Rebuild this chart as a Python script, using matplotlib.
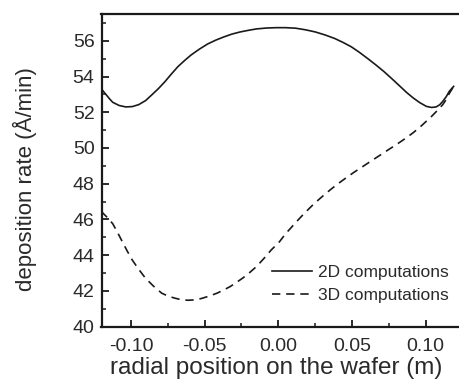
import matplotlib
matplotlib.use("Agg")
import matplotlib.pyplot as plt

plt.rcParams['font.family'] = ['Liberation Sans', 'DejaVu Sans']

# Deposition rate along the wafer radius, 2D model
x_2d = [-0.1214, -0.1190, -0.1168, -0.1145, -0.1124, -0.1080, -0.1035, -0.0990,
        -0.0947, -0.0900, -0.0858, -0.0812, -0.0769, -0.0725, -0.0681, -0.0636,
        -0.0592, -0.0537, -0.0481, -0.0425, -0.0370, -0.0315, -0.0259, -0.0204,
        -0.0148, -0.0080, -0.0015, 0.0050, 0.0118, 0.0185, 0.0251, 0.0318,
        0.0384, 0.0440, 0.0495, 0.0550, 0.0605, 0.0661, 0.0717, 0.0772,
        0.0828, 0.0872, 0.0916, 0.0960, 0.1005, 0.1040, 0.1071, 0.1095,
        0.1116, 0.1140, 0.1160, 0.1190]
rate_2d = [53.44, 53.20, 52.98, 52.75, 52.56, 52.38, 52.30, 52.32,
           52.43, 52.66, 52.98, 53.34, 53.72, 54.15, 54.56, 54.90,
           55.21, 55.53, 55.82, 56.04, 56.22, 56.38, 56.50, 56.59,
           56.67, 56.72, 56.74, 56.74, 56.71, 56.62, 56.50, 56.33,
           56.13, 55.91, 55.67, 55.36, 55.02, 54.66, 54.28, 53.87,
           53.44, 53.10, 52.80, 52.54, 52.33, 52.27, 52.30, 52.42,
           52.61, 52.88, 53.17, 53.45]

# Deposition rate along the wafer radius, 3D model
x_3d = [-0.1202, -0.1160, -0.1124, -0.1090, -0.1058, -0.1025, -0.0991, -0.0947,
        -0.0902, -0.0847, -0.0792, -0.0748, -0.0703, -0.0658, -0.0614, -0.0570,
        -0.0526, -0.0470, -0.0415, -0.0370, -0.0326, -0.0282, -0.0237, -0.0192,
        -0.0148, -0.0099, -0.0049, 0.0007, 0.0050, 0.0096, 0.0140, 0.0184,
        0.0228, 0.0273, 0.0318, 0.0362, 0.0412, 0.0462, 0.0512, 0.0562,
        0.0606, 0.0650, 0.0695, 0.0739, 0.0784, 0.0828, 0.0872, 0.0916,
        0.0960, 0.1005, 0.1040, 0.1071, 0.1095, 0.1116, 0.1140, 0.1160,
        0.1190]
rate_3d = [46.45, 46.10, 45.76, 45.25, 44.74, 44.22, 43.72, 43.20,
           42.71, 42.26, 41.87, 41.70, 41.59, 41.50, 41.47, 41.49,
           41.56, 41.70, 41.87, 42.05, 42.24, 42.48, 42.74, 43.04,
           43.36, 43.80, 44.28, 44.74, 45.20, 45.62, 46.02, 46.40,
           46.76, 47.10, 47.42, 47.72, 48.04, 48.34, 48.63, 48.90,
           49.14, 49.38, 49.62, 49.86, 50.10, 50.34, 50.59, 50.86,
           51.16, 51.50, 51.77, 52.03, 52.24, 52.43, 52.72, 53.05,
           53.45]

x_ticks = [-0.10, -0.05, 0.00, 0.05, 0.10]
y_ticks = [40, 42, 44, 46, 48, 50, 52, 54, 56]

W, H = 459, 383
fig = plt.figure(figsize=(W / 100, H / 100), dpi=100)
ax_left, ax_bottom = 101.5, 56.5
ax_w, ax_h = 361.0, 312.4
ax = fig.add_axes([ax_left / W, ax_bottom / H, ax_w / W, ax_h / H])

ink = '#1a1a1a'
txt = '#2a2a2a'

ax.plot(x_2d, rate_2d, color=ink, lw=1.2, ls='-', label='2D computations')
ax.plot(x_3d, rate_3d, color=ink, lw=1.2, ls=(0, (5, 3.5)), label='3D computations')

ax.set_xlim(-0.12, 0.12)
ax.set_ylim(40, 57.5)
ax.set_xticks(x_ticks)
ax.set_xticklabels([f"{v:.2f}" for v in x_ticks])
ax.set_yticks(y_ticks)
ax.set_xticks([-0.075, -0.025, 0.025, 0.075, 0.125], minor=True)
ax.set_yticks([41, 43, 45, 47, 49, 51, 53, 55, 57], minor=True)

ax.tick_params(which='major', direction='in', length=5, width=1.3, colors=ink,
               labelsize=14, labelcolor=txt)
ax.tick_params(axis='y', which='major', pad=5)
ax.tick_params(axis='x', which='major', pad=8.3)
ax.tick_params(which='minor', direction='in', length=3, width=1.1, colors=ink)
ax.tick_params(axis='x', which='both', top=False)
ax.tick_params(axis='y', which='both', right=False)

for side in ['left', 'bottom', 'top', 'right']:
    ax.spines[side].set_linewidth(1.6)
    ax.spines[side].set_color(ink)

ax.set_xlabel('radial position on the wafer (m)', fontsize=17.5, color=txt)
ax.set_ylabel('deposition rate (Å/min)', fontsize=16, color=txt)
ax.xaxis.set_label_coords(0.4848, -0.0976)
ax.yaxis.set_label_coords(-0.1787, 0.4706)

leg = ax.legend(loc='upper left', bbox_to_anchor=(0.4715, 0.196), frameon=False,
                fontsize=12.5, handlelength=2.3, handletextpad=0.35,
                labelspacing=0.43, borderpad=0, borderaxespad=0)
for t in leg.get_texts():
    t.set_color(txt)

fig.savefig('out.png', dpi=100)
